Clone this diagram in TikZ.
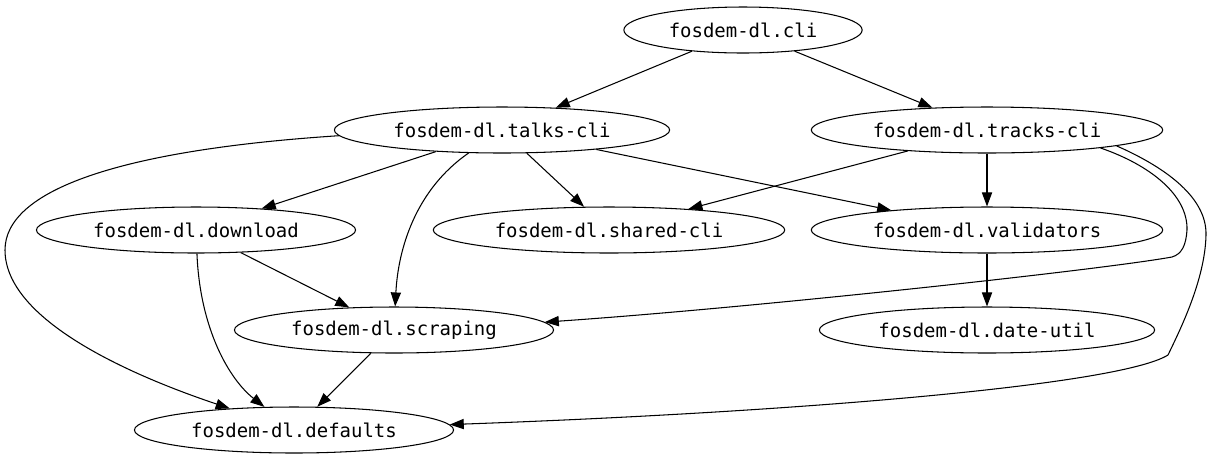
\documentclass[tikz,border=0pt]{standalone}
\usepackage{fontspec}
\setmonofont{DejaVu Sans Mono}
\usetikzlibrary{shapes.geometric,arrows.meta}
\begin{document}
\begin{tikzpicture}[x=0.02cm,y=-0.02cm,
  mod/.style={draw, ellipse, line width=0.6pt, inner xsep=0.2cm, inner ysep=0pt, minimum height=0.92cm, font=\ttfamily\fontsize{10.8}{13}\selectfont},
  dep/.style={line width=0.6pt, -{Triangle[length=8pt,width=5.8pt]}}]
\useasboundingbox (0,0) rectangle (1214,461);
\node[mod] (cli) at (743,30) {fosdem-dl.cli};
\node[mod] (talks) at (502,130) {fosdem-dl.talks-cli};
\node[mod] (tracks) at (987,130) {fosdem-dl.tracks-cli};
\node[mod] (download) at (196,230) {fosdem-dl.download};
\node[mod] (shared) at (609,230) {fosdem-dl.shared-cli};
\node[mod] (validators) at (987,230) {fosdem-dl.validators};
\node[mod] (scraping) at (394,330) {fosdem-dl.scraping};
\node[mod] (dateutil) at (987,330) {fosdem-dl.date-util};
\node[mod] (defaults) at (294,430) {fosdem-dl.defaults};
\path[draw,dep] (cli) -- (talks);
\path[draw,dep] (cli) -- (tracks);
\path[draw,dep] (talks) -- (download);
\path[draw,dep] (talks) -- (shared);
\path[draw,dep] (talks) -- (validators);
\path[draw,dep] (talks) .. controls (415,190) and (398,250) .. (scraping);
\path[draw,dep] (talks.182) .. controls (120,150) and (5,190) .. (5,250) .. controls (5,320) and (130,375) .. (defaults);
\path[draw,dep] (tracks) -- (shared);
\path[draw,dep] (tracks) -- (validators);
\path[draw,dep] (tracks.-9) .. controls (1150,165) and (1188,195) .. (1187,230) .. controls (1186,245) and (1182,254) .. (1172,257) .. controls (1100,270) and (750,308) .. (scraping.3.5);
\path[draw,dep] (tracks.-7) .. controls (1160,165) and (1207,195) .. (1206,235) .. controls (1205,280) and (1180,330) .. (1168,355) .. controls (1120,385) and (800,412) .. (defaults.2);
\path[draw,dep] (download) -- (scraping);
\path[draw,dep] (download) .. controls (200,330) and (230,380) .. (defaults);
\path[draw,dep] (scraping) -- (defaults);
\path[draw,dep] (validators) -- (dateutil);
\end{tikzpicture}
\end{document}
